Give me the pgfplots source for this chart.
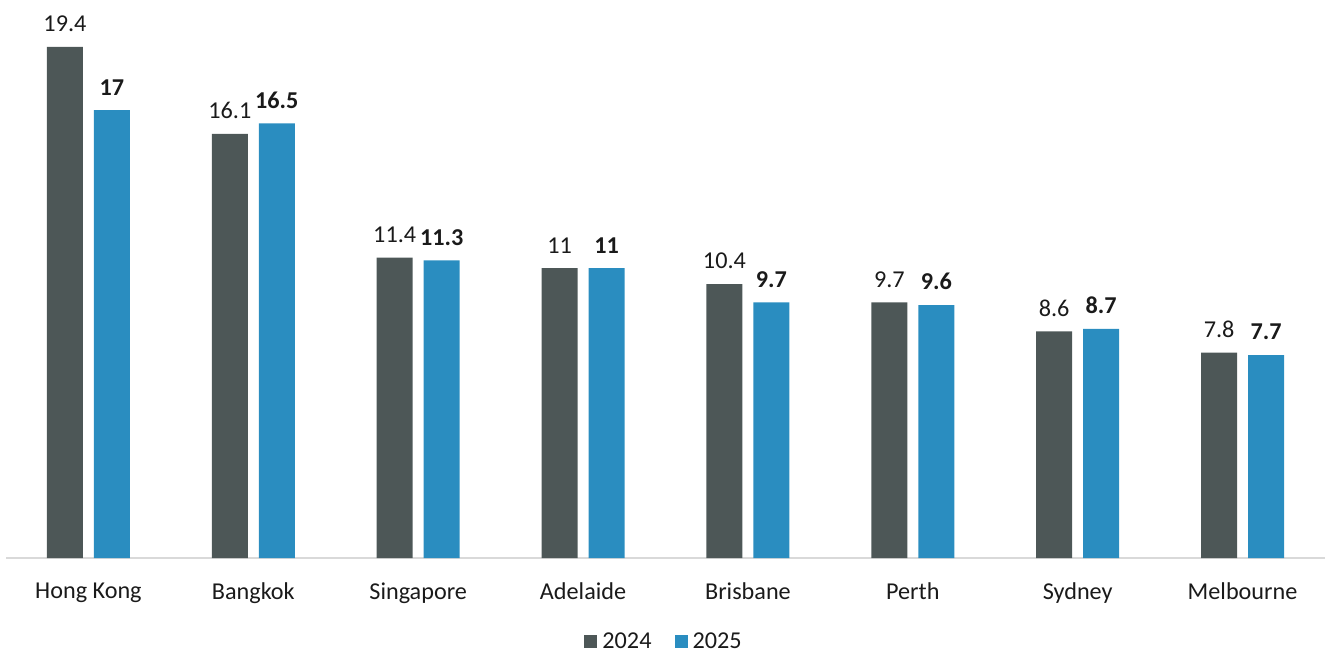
\documentclass[border=0pt]{standalone}
\usepackage{pgfplots}
\pgfplotsset{compat=1.18}
\usepackage{fontspec}
\setmainfont{Carlito}
\definecolor{cgray}{HTML}{4D5757}
\definecolor{cblue}{HTML}{2A8DC0}
\definecolor{ctext}{HTML}{1A1A1A}
\begin{document}
\begin{tikzpicture}[font=\fontsize{12.1}{14.5}\selectfont]
\path[use as bounding box] (-3.5pt,-48pt) rectangle (659.5pt,279pt);
\begin{axis}[
  at={(-0.5pt,0)}, anchor=south west,
  scale only axis,
  width=659.5pt, height=279pt,
  xmin=-0.5, xmax=7.5,
  ymin=0, ymax=21.18,
  xtick={0,...,7},
  xticklabels={Hong Kong,Bangkok,Singapore,Adelaide,Brisbane,Perth,Sydney,Melbourne},
  ytick=\empty,
  axis x line=bottom, axis y line=none,
  x axis line style={draw=black!15, line width=0.6pt, -},
  major tick length=0pt,
  xticklabel style={text=ctext, yshift=-9pt},
  /pgf/number format/assume math mode=true,
  ybar, bar width=18pt,
  nodes near coords,
  nodes near coords style={text=ctext, anchor=south, yshift=4pt},
  legend style={at={(0.5,-48pt)}, anchor=south, yshift=0.5pt, draw=none, fill=none, inner sep=0pt,
    nodes={inner ysep=0.5pt, inner xsep=2.5pt}, legend columns=2,
    /tikz/every even column/.append style={column sep=9pt}, text=ctext,
    font=\fontsize{12.1}{14.5}\selectfont},
  legend image code/.code={\fill[#1] (0pt,-3pt) rectangle (6.5pt,3.5pt);},
]
\addplot[fill=cgray, draw=none, bar shift=-11.75pt] coordinates {(0,19.4) (1,16.1) (2,11.4) (3,11) (4,10.4) (5,9.7) (6,8.6) (7,7.8)};
\addplot[fill=cblue, draw=none, bar shift=11.75pt, nodes near coords style={font=\bfseries\fontsize{12.1}{14.5}\selectfont}] coordinates {(0,17) (1,16.5) (2,11.3) (3,11) (4,9.7) (5,9.6) (6,8.7) (7,7.7)};
\legend{2024,2025}
\end{axis}
\end{tikzpicture}
\end{document}
